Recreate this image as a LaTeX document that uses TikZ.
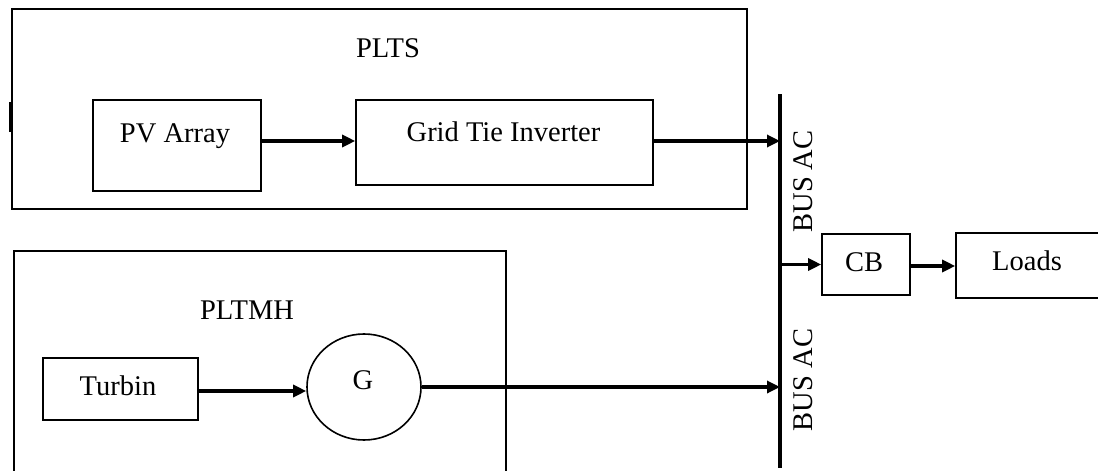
\documentclass[tikz,border=0pt]{standalone}
\usepackage{fontspec}
\setmainfont{Liberation Serif}
\usetikzlibrary{arrows.meta,shapes.geometric}
\begin{document}
\begin{tikzpicture}[x=1pt,y=-1pt,
  box/.style={draw,line width=1.6pt,rectangle,inner sep=0pt,anchor=center},
  txt/.style={inner sep=0pt,anchor=center,text height=18.9pt,text depth=0pt,font=\fontsize{28.5}{34}\selectfont},
  conn/.style={line width=3.2pt,-{Triangle[length=13pt,width=12pt]}},
  bus/.style={line width=3.6pt}]
\useasboundingbox (0,0) rectangle (1098,471);
% containers
\node[box,minimum width=735pt,minimum height=200pt] (plts) at (379.5,109) {};
\node[box,minimum width=492pt,minimum height=240pt] (pltmh) at (260,371) {};
\draw[line width=3.5pt] (plts.west |- 0,102) -- (plts.west |- 0,132);
% blocks
\node[box,minimum width=168pt,minimum height=91pt] (pv) at (177,145.5) {};
\node[box,minimum width=297pt,minimum height=85pt] (gti) at (504.5,142.5) {};
\node[box,minimum width=88pt,minimum height=61pt] (cb) at (866,264.5) {};
\node[box,minimum width=160pt,minimum height=65pt] (loads) at (1036,265.5) {};
\node[box,minimum width=155pt,minimum height=62pt] (turb) at (120.5,389) {};
\node[draw,line width=1.6pt,ellipse,inner sep=0pt,minimum width=114pt,minimum height=106pt] (g) at (364,387) {};
% texts
\node[txt] (pltst) at (388,48) {PLTS};
\node[txt] (pvt) at (175,133.5) {PV Array};
\node[txt] (gtit) at (503.5,132) {Grid Tie Inverter};
\node[txt] (cbt) at (864,262.5) {CB};
\node[txt] (loadst) at (1027,261) {Loads};
\node[txt] (pltmht) at (247,310) {PLTMH};
\node[txt] (turbt) at (118,386.5) {Turbin};
\node[txt] (gt) at (363,380) {G};
\node[txt,rotate=90] (bus1t) at (803,181.5) {BUS AC};
\node[txt,rotate=90] (bus2t) at (803,380) {BUS AC};
% bus
\coordinate (bustop) at (780,94);
\coordinate (busbot) at (780,468);
\draw[bus] (bustop) -- (busbot);
% connectors
\draw[conn] ([yshift=4.5pt]pv.east) -- ([yshift=4.5pt]pv.east -| gti.west);
\draw[conn] ([yshift=1.5pt]gti.east) -- ([yshift=1.5pt]gti.east -| bustop);
\draw[conn] (cb.west -| bustop) -- (cb.west);
\draw[conn] ([yshift=-1.5pt]cb.east) -- ([yshift=-1.5pt]cb.east -| loads.west);
\draw[conn] ([yshift=-2pt]turb.east) -- ([yshift=-2pt]turb.east -| g.west);
\draw[conn] (g.east) -- (g.east -| bustop);
\end{tikzpicture}
\end{document}
